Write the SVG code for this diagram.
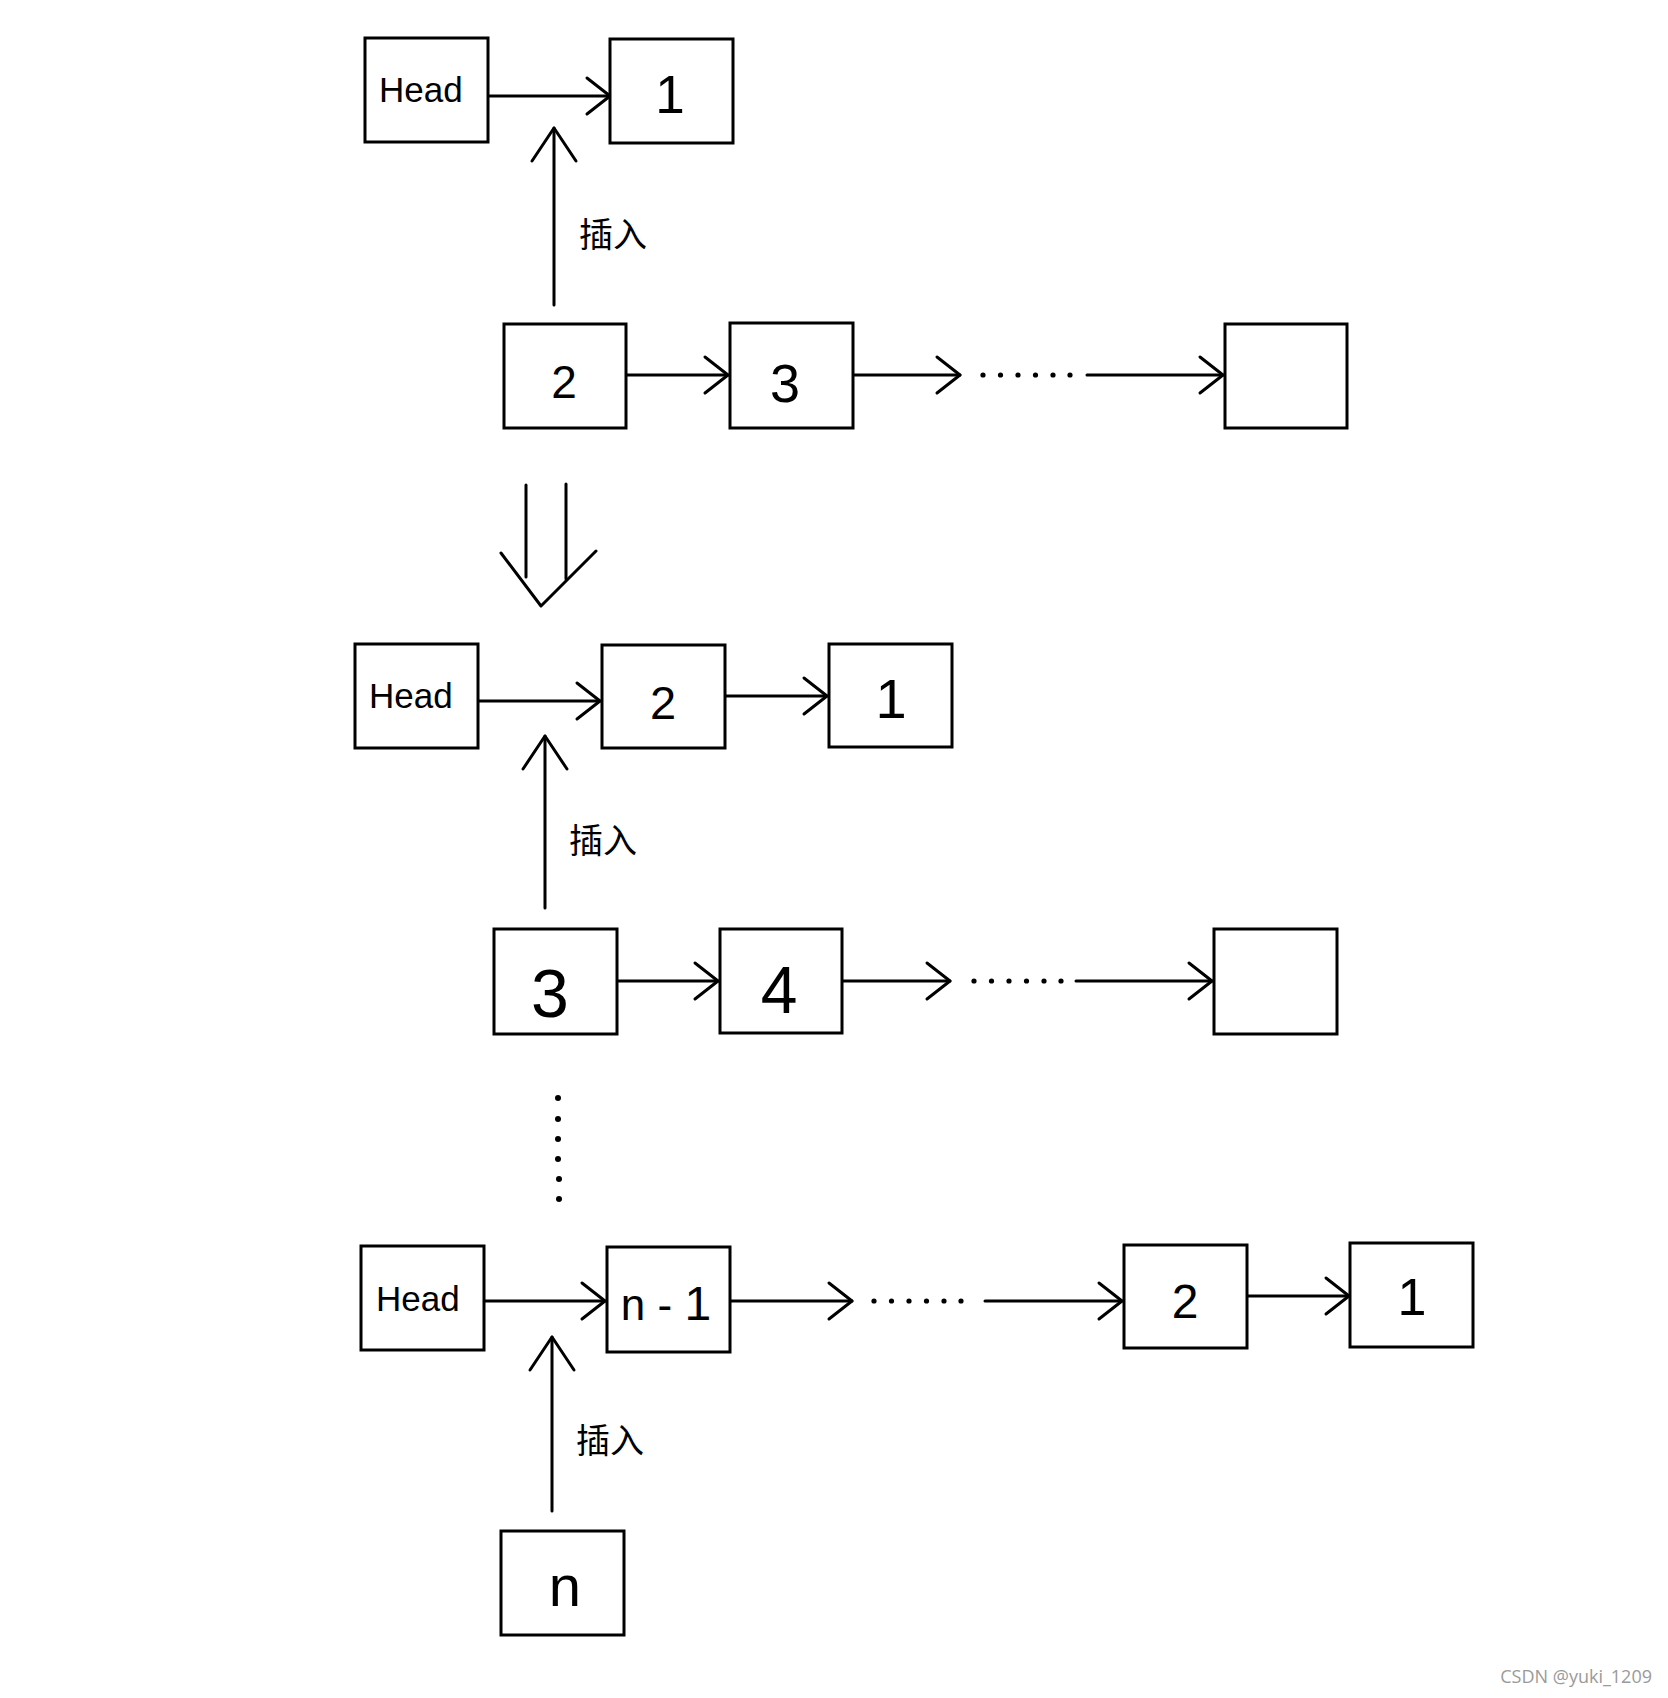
<svg xmlns="http://www.w3.org/2000/svg" width="1668" height="1698" viewBox="0 0 1668 1698">
<style>
.box{fill:#fff;stroke:#000;stroke-width:3}
.ln{fill:none;stroke:#000;stroke-width:3;stroke-linecap:round;stroke-linejoin:round}
.hd{font-family:"Liberation Sans",Arial,sans-serif;font-size:35px;fill:#000}
.dg{font-family:"Liberation Sans",Arial,sans-serif;fill:#000;text-anchor:middle}
.cn{font-family:"Noto Sans CJK SC","Noto Sans",sans-serif;font-size:34px;fill:#000}
.dot{fill:#000}
.wm{font-family:"Open Sans","Liberation Sans",sans-serif;font-size:18px;fill:#9a9a9a;text-anchor:end}
</style>
<defs>
<marker id="ah" markerUnits="userSpaceOnUse" markerWidth="40" markerHeight="50" refX="0" refY="0" viewBox="-30 -25 35 50" orient="auto" overflow="visible">
<path d="M-23,-18 L0,0 L-23,18" fill="none" stroke="#000" stroke-width="3" stroke-linecap="round" stroke-linejoin="round"/>
</marker>
<marker id="av" markerUnits="userSpaceOnUse" markerWidth="50" markerHeight="60" refX="0" refY="0" viewBox="-40 -30 45 60" orient="auto" overflow="visible">
<path d="M-33,-22 L0,0 L-33,22" fill="none" stroke="#000" stroke-width="3" stroke-linecap="round" stroke-linejoin="round"/>
</marker>
</defs>
<rect width="1668" height="1698" fill="#fff"/>

<g id="connectors">
<line class="ln" x1="473" y1="96" x2="610" y2="96" marker-end="url(#ah)"/>
<line class="ln" x1="554" y1="305" x2="554" y2="128" marker-end="url(#av)"/>
<line class="ln" x1="611" y1="375" x2="728" y2="375" marker-end="url(#ah)"/>
<line class="ln" x1="827" y1="375" x2="960" y2="375" marker-end="url(#ah)"/>
<line class="ln" x1="1087" y1="375" x2="1223" y2="375" marker-end="url(#ah)"/>
<line class="ln" x1="526" y1="485" x2="526" y2="577"/>
<line class="ln" x1="566" y1="484" x2="566" y2="579"/>
<polyline class="ln" points="501,553 541,606 596,551"/>
<line class="ln" x1="464" y1="701" x2="600" y2="701" marker-end="url(#ah)"/>
<line class="ln" x1="711" y1="696" x2="827" y2="696" marker-end="url(#ah)"/>
<line class="ln" x1="545" y1="908" x2="545" y2="736" marker-end="url(#av)"/>
<line class="ln" x1="601" y1="981" x2="718" y2="981" marker-end="url(#ah)"/>
<line class="ln" x1="817" y1="981" x2="950" y2="981" marker-end="url(#ah)"/>
<line class="ln" x1="1076" y1="981" x2="1212" y2="981" marker-end="url(#ah)"/>
<line class="ln" x1="471" y1="1301" x2="605" y2="1301" marker-end="url(#ah)"/>
<line class="ln" x1="717" y1="1301" x2="852" y2="1301" marker-end="url(#ah)"/>
<line class="ln" x1="985" y1="1301" x2="1122" y2="1301" marker-end="url(#ah)"/>
<line class="ln" x1="1233" y1="1296" x2="1349" y2="1296" marker-end="url(#ah)"/>
<line class="ln" x1="552" y1="1511" x2="552" y2="1337" marker-end="url(#av)"/>
</g>

<g id="dots">
<circle class="dot" cx="983" cy="375" r="2.6"/><circle class="dot" cx="1000.5" cy="375" r="2.6"/><circle class="dot" cx="1018" cy="375" r="2.6"/><circle class="dot" cx="1035.5" cy="375" r="2.6"/><circle class="dot" cx="1053" cy="375" r="2.6"/><circle class="dot" cx="1070" cy="375" r="2.6"/>
<circle class="dot" cx="974" cy="981" r="2.6"/><circle class="dot" cx="991.5" cy="981" r="2.6"/><circle class="dot" cx="1009" cy="981" r="2.6"/><circle class="dot" cx="1026.5" cy="981" r="2.6"/><circle class="dot" cx="1044" cy="981" r="2.6"/><circle class="dot" cx="1061" cy="981" r="2.6"/>
<circle class="dot" cx="874" cy="1301" r="2.6"/><circle class="dot" cx="891.5" cy="1301" r="2.6"/><circle class="dot" cx="909" cy="1301" r="2.6"/><circle class="dot" cx="926.5" cy="1301" r="2.6"/><circle class="dot" cx="944" cy="1301" r="2.6"/><circle class="dot" cx="961" cy="1301" r="2.6"/>
<circle class="dot" cx="558" cy="1098" r="3"/><circle class="dot" cx="558" cy="1119" r="3"/><circle class="dot" cx="558" cy="1139" r="3"/><circle class="dot" cx="558" cy="1159" r="3"/><circle class="dot" cx="559" cy="1179" r="3"/><circle class="dot" cx="559" cy="1199" r="3"/>
</g>

<g id="labels">
<text class="cn" x="579" y="247">插入</text>
<text class="cn" x="569" y="853">插入</text>
<text class="cn" x="576" y="1453">插入</text>
</g>

<g id="head1"><rect class="box" x="365" y="38" width="123" height="104"/><text class="hd" x="379" y="102">Head</text></g>
<g id="r1n1"><rect class="box" x="610" y="39" width="123" height="104"/><text class="dg" x="670" y="113" font-size="53">1</text></g>

<g id="r2n2"><rect class="box" x="504" y="324" width="122" height="104"/><text class="dg" x="564" y="398" font-size="46">2</text></g>
<g id="r2n3"><rect class="box" x="730" y="323" width="123" height="105"/><text class="dg" x="785" y="402" font-size="54">3</text></g>
<g id="r2last"><rect class="box" x="1225" y="324" width="122" height="104"/></g>

<g id="head2"><rect class="box" x="355" y="644" width="123" height="104"/><text class="hd" x="369" y="708">Head</text></g>
<g id="r3n2"><rect class="box" x="602" y="645" width="123" height="103"/><text class="dg" x="663" y="719" font-size="47">2</text></g>
<g id="r3n1"><rect class="box" x="829" y="644" width="123" height="103"/><text class="dg" x="891" y="718" font-size="56">1</text></g>

<g id="r4n3"><rect class="box" x="494" y="929" width="123" height="105"/><text class="dg" x="550" y="1017" font-size="68">3</text></g>
<g id="r4n4"><rect class="box" x="720" y="929" width="122" height="104"/><text class="dg" x="779" y="1013" font-size="66">4</text></g>
<g id="r4last"><rect class="box" x="1214" y="929" width="123" height="105"/></g>

<g id="head3"><rect class="box" x="361" y="1246" width="123" height="104"/><text class="hd" x="376" y="1311">Head</text></g>
<g id="r5nm1"><rect class="box" x="607" y="1247" width="123" height="105"/><text class="dg" x="666" y="1320" font-size="44">n - <tspan font-size="48">1</tspan></text></g>
<g id="r5n2"><rect class="box" x="1124" y="1245" width="123" height="103"/><text class="dg" x="1185" y="1318" font-size="48">2</text></g>
<g id="r5n1"><rect class="box" x="1350" y="1243" width="123" height="104"/><text class="dg" x="1412" y="1315" font-size="52">1</text></g>

<g id="nodeN"><rect class="box" x="501" y="1531" width="123" height="104"/><text class="dg" x="565" y="1606" font-size="58">n</text></g>

<text class="wm" x="1652" y="1683">CSDN @yuki_1209</text>
</svg>
